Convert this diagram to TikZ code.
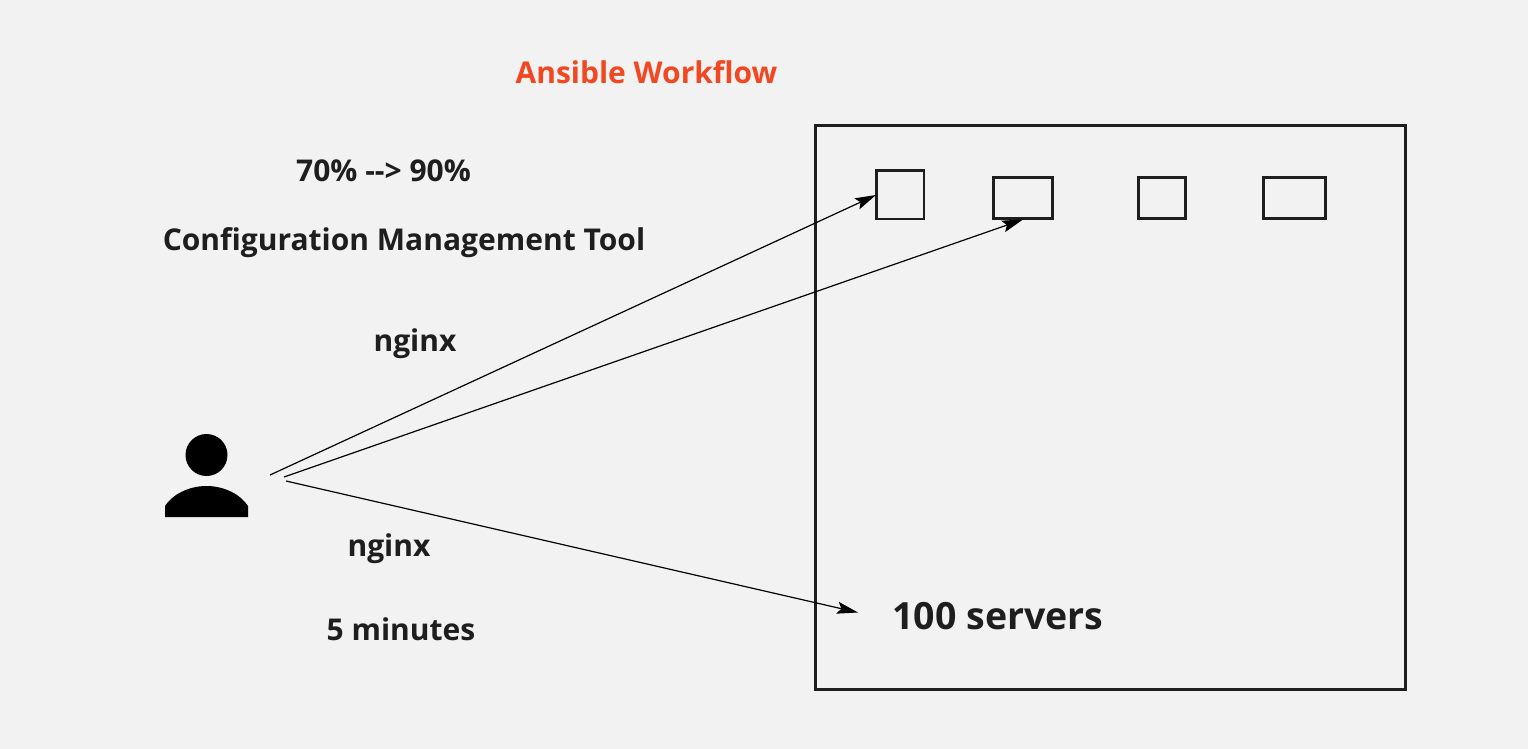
\documentclass[tikz,border=0pt]{standalone}
\usepackage{fontspec}
\setmainfont{Open Sans}
\usetikzlibrary{arrows.meta}
\definecolor{bg}{HTML}{F2F2F2}
\definecolor{ink}{HTML}{1E1E1E}
\definecolor{hot}{HTML}{F24822}
\tikzset{x=1pt,y=-1pt,
 box/.style={draw=ink,line width=2.6pt,inner sep=0pt,minimum width=#1,anchor=north west},
 lab/.style={text=ink,font=\bfseries\fontsize{30}{34}\selectfont,inner sep=0pt,anchor=center},
 arr/.style={draw=black,line width=1.2pt,-{Stealth[length=21pt,width=12pt,inset=4pt]}}}
\begin{document}
\begin{tikzpicture}
\path[use as bounding box,fill=bg] (0,0) rectangle (1528,749);
\node[lab,text=hot] (title) at (646.5,72) {Ansible Workflow};
\node[lab] (pct) at (383.5,171) {70\% {-}{-}> 90\%};
\node[lab] (cfg) at (404,243) {Configuration Management Tool};
\node[lab] (n1) at (415,344) {nginx};
\node[lab] (n2) at (389,549) {nginx};
\node[lab] (five) at (401,629) {5 minutes};
\node[draw=ink,line width=3pt,minimum width=589.5pt,minimum height=564pt,inner sep=0pt,anchor=north west] (outer) at (814,124) {};
\node[box=47.5pt,minimum height=48.5pt] (s1) at (875,169) {};
\node[box=59pt,minimum height=41pt] (s2) at (992,176) {};
\node[box=47pt,minimum height=41pt] (s3) at (1137,176) {};
\node[box=62pt,minimum height=41pt] (s4) at (1262,176) {};
\node[lab,font=\bfseries\fontsize{37.5}{42}\selectfont] (hundred) at (998,616) {100 servers};
\fill[black] (206.5,455) circle (21);
\fill[black] (165,517) -- (165,506) .. controls (172,495) and (188,486) .. (206.5,486) .. controls (225,486) and (241,495) .. (248,506) -- (248,517) -- cycle;
\coordinate (a1) at (270,475);
\coordinate (a2) at (284,477);
\coordinate (a3) at (286,481);
\coordinate (t1) at (876,195);
\coordinate (t2) at (1023,219.5);
\coordinate (t3) at (858,612.5);
\draw[arr] (a1) -- (t1);
\draw[arr] (a2) -- (t2);
\draw[arr] (a3) -- (t3);
\end{tikzpicture}
\end{document}
